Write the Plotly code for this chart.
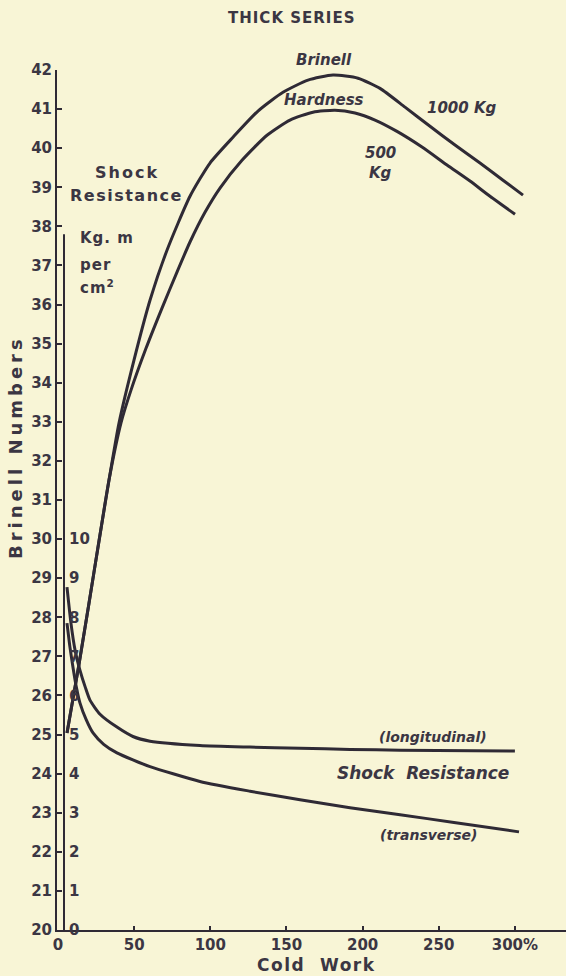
import plotly.graph_objects as go

# ---------------- data ----------------
cold_work_1000 = [5.91, 13.79, 20.35, 26.92, 33.49, 40.05, 49.90, 60.41, 71.57, 86.67, 99.80, 114.90,
                  131.32, 147.73, 164.15, 180.56, 196.98, 211.42, 227.84, 244.25, 260.67, 277.08, 292.19, 305.32]
brinell_1000 = [25.04, 26.80, 28.36, 29.95, 31.51, 32.97, 34.58, 36.11, 37.39, 38.77, 39.62, 40.28,
                40.95, 41.43, 41.74, 41.87, 41.79, 41.53, 41.05, 40.56, 40.08, 39.62, 39.18, 38.80]

cold_work_500 = [5.91, 13.79, 20.35, 26.92, 33.49, 41.37, 47.93, 57.78, 68.29, 78.13, 86.67, 96.52, 106.37,
                 120.81, 137.23, 152.33, 167.43, 181.88, 195.01, 208.14, 222.59, 239.00, 255.42, 270.52,
                 283.65, 300.07]
brinell_500 = [25.04, 26.80, 28.36, 29.95, 31.51, 32.97, 33.81, 34.88, 35.91, 36.83, 37.60, 38.36, 38.98,
               39.69, 40.33, 40.72, 40.92, 40.97, 40.90, 40.72, 40.43, 40.03, 39.57, 39.16, 38.77, 38.31]

cold_work_long = [5.9, 8.5, 11.2, 14.4, 18.0, 21.0, 27.6, 38.7, 49.2, 60.4, 93.2, 126.0, 158.9, 191.7, 224.6, 300.0]
shock_long = [8.77, 7.85, 7.16, 6.65, 6.20, 5.88, 5.52, 5.19, 4.95, 4.83, 4.72, 4.68, 4.65, 4.62, 4.60, 4.58]

cold_work_trans = [5.9, 7.8, 9.8, 12.0, 14.4, 18.5, 23.0, 30.0, 38.7, 49.2, 60.4, 93.2, 126.1, 158.9,
                   191.7, 224.6, 260.0, 302.7]
shock_trans = [7.85, 7.25, 6.73, 6.22, 5.81, 5.38, 5.04, 4.75, 4.53, 4.35, 4.18, 3.80, 3.55, 3.33,
               3.13, 2.95, 2.75, 2.51]

x_ticks = [0, 50, 100, 150, 200, 250, 300]
x_tick_labels = ["0", "50", "100", "150", "200", "250", "300%"]
brinell_ticks = list(range(20, 43))
shock_ticks = list(range(0, 11))

# ---------------- styling ----------------
BG = "#f8f5d6"
INK = "#2f2a35"
TXT = "#3b3643"
FONT = "DejaVu Sans"

W_PX, H_PX = 566, 976
L, R, T, B = 57, 0, 70, 46
PW = W_PX - L - R
PH = H_PX - T - B


def at(px, py):
    """page-pixel position -> paper coordinates for labels"""
    return dict(x=(px - L) / PW, y=(H_PX - B - py) / PH, xref="paper", yref="paper")


def bold(items):
    return ["<b>%s</b>" % v for v in items]


fig = go.Figure()
line_style = dict(color=INK, width=3, shape="spline", smoothing=0.6)
fig.add_trace(go.Scatter(x=cold_work_1000, y=brinell_1000, mode="lines", line=line_style, name="1000 Kg"))
fig.add_trace(go.Scatter(x=cold_work_500, y=brinell_500, mode="lines", line=line_style, name="500 Kg"))
fig.add_trace(go.Scatter(x=cold_work_long, y=shock_long, mode="lines", line=line_style, yaxis="y2", name="longitudinal"))
fig.add_trace(go.Scatter(x=cold_work_trans, y=shock_trans, mode="lines", line=line_style, yaxis="y2", name="transverse"))

px_per_unit = 1.523
x0 = -(58 - L) / px_per_unit
x1 = x0 + PW / px_per_unit
shock_pos = (64 - L) / PW

fig.update_layout(
    width=W_PX, height=H_PX,
    margin=dict(l=L, r=R, t=T, b=B, pad=0),
    paper_bgcolor=BG, plot_bgcolor=BG,
    showlegend=False,
    font=dict(family=FONT, color=TXT, size=14),
    xaxis=dict(range=[x0, x1], tickvals=x_ticks, ticktext=bold(x_tick_labels),
               ticks="inside", ticklen=4, tickcolor=INK, tickwidth=1.5,
               showline=True, linecolor=INK, linewidth=2, showgrid=False, zeroline=False,
               tickfont=dict(size=15, color=TXT, family=FONT)),
    yaxis=dict(range=[20, 42], tickvals=brinell_ticks, ticktext=bold(brinell_ticks),
               ticks="inside", ticklen=5,
               tickcolor=INK, tickwidth=1.5, showline=True, linecolor=INK, linewidth=2,
               showgrid=False, zeroline=False,
               tickfont=dict(size=15, color=TXT, family=FONT)),
    yaxis2=dict(range=[0, 22], overlaying="y", anchor="free", position=shock_pos, side="right",
                tickvals=shock_ticks, ticktext=bold(shock_ticks),
                ticks="", showline=False, showgrid=False, zeroline=False,
                ticklabelstandoff=4,
                tickfont=dict(size=15, color=TXT, family=FONT)),
)

# shock resistance axis line (only reaches to the unit label)
fig.add_shape(type="line", xref="paper", yref="y2", x0=shock_pos, x1=shock_pos, y0=0, y1=17.8,
              line=dict(color=INK, width=2))

ann = []
def label(text, px, py, size=14, italic=False, angle=0, xanchor="center", spacing=0):
    t = text
    if spacing:
        t = "<span style='letter-spacing:%spx'>%s</span>" % (spacing, t)
    t = "<b>" + t + "</b>"
    if italic:
        t = "<i>" + t + "</i>"
    d = at(px, py)
    d.update(text=t, showarrow=False, font=dict(size=size, color=TXT, family=FONT),
             xanchor=xanchor, yanchor="middle", textangle=angle)
    ann.append(d)

label("THICK SERIES", 291, 18, size=15, spacing=1)
label("Brinell Numbers", 15, 447, size=18, angle=-90, spacing=4)
label("Cold  Work", 316, 965, size=17, spacing=1.5)
label("Shock", 127, 172, size=16, spacing=2)
label("Resistance", 126, 195, size=16, spacing=1.5)
label("Kg. m", 78, 238, size=15, xanchor="left", spacing=1)
label("per", 78, 265, size=15, xanchor="left", spacing=1)
label("cm<sup>2</sup>", 78, 287, size=15, xanchor="left", spacing=1)
label("Brinell", 324, 60, size=15, italic=True)
label("Hardness", 324, 100, size=15, italic=True)
label("1000 Kg", 462, 108, size=15, italic=True)
label("500", 380, 153, size=15, italic=True)
label("Kg", 380, 173, size=15, italic=True)
label("(longitudinal)", 433, 737, size=14, italic=True)
label("Shock  Resistance", 423, 773, size=17, italic=True)
label("(transverse)", 429, 835, size=14, italic=True)
fig.update_layout(annotations=ann)

fig.write_html("out.html", config={"displayModeBar": False})

# remove the default page margin so the figure sits flush in the window
with open("out.html", "r", encoding="utf-8") as f:
    html = f.read()
html = html.replace("<body>", "<body style=\"margin:0;background:%s\">" % BG, 1)
with open("out.html", "w", encoding="utf-8") as f:
    f.write(html)
